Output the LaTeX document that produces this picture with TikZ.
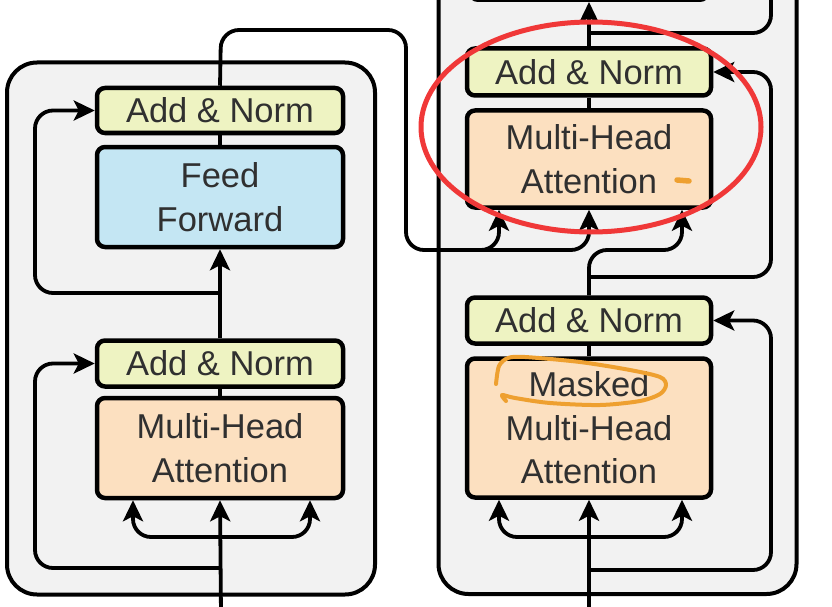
\documentclass[tikz,border=0pt]{standalone}
\usepackage{fontspec}
\setmainfont{Liberation Sans}
\usetikzlibrary{arrows.meta}
\definecolor{panelgray}{RGB}{242,242,242}
\definecolor{normfill}{RGB}{238,243,194}
\definecolor{fffill}{RGB}{196,230,243}
\definecolor{attfill}{RGB}{252,224,192}
\definecolor{txtgray}{RGB}{48,48,48}
\definecolor{annred}{RGB}{240,56,56}
\definecolor{annorange}{RGB}{238,160,48}
\begin{document}
\begin{tikzpicture}[x=1pt,y=-1pt,
  panel/.style={draw=black, line width=4pt, fill=panelgray, rounded corners=30pt, inner sep=0pt},
  box/.style={draw=black, line width=4.5pt, rounded corners=8pt, minimum width=246pt, inner sep=0pt,
    align=center, font=\fontsize{34.5}{43.5}\selectfont, text=txtgray},
  normbox/.style={box, fill=normfill},
  ffbox/.style={box, fill=fffill},
  attbox/.style={box, fill=attfill},
  conn/.style={line width=3.8pt, rounded corners=18pt},
  arr/.style={conn, -{Stealth[length=21pt,width=20pt,inset=5pt]}},
  redmark/.style={draw=annred, line width=5pt},
  orangemark/.style={draw=annorange, line width=4pt, line cap=round, line join=round},
]
\useasboundingbox (0,0) rectangle (832,607);
\clip (0,0) rectangle (832,607);

% panels
\node[panel, minimum width=368pt, minimum height=532pt] (encP) at (191,328.5) {};
\node[panel, minimum width=358pt, minimum height=680pt] (decP) at (617.5,254) {};

% encoder boxes
\node[normbox, minimum height=45pt] (eAN2) at (220,110.5) {Add \& Norm};
\node[ffbox, minimum height=100pt] (eFF) at (220,197) {Feed\\Forward};
\node[normbox, minimum height=46pt] (eAN1) at (220,363.5) {Add \& Norm};
\node[attbox, minimum height=100pt] (eMHA) at (220,448) {Multi-Head\\Attention};

% decoder boxes
\node[normbox, minimum width=238pt, minimum height=60pt, anchor=south] (dTop) at (589,2) {};
\node[normbox, minimum width=244pt, minimum height=47pt] (dAN2) at (589,72) {Add \& Norm};
\node[attbox, minimum width=244pt, minimum height=97pt] (dMHA) at (589,159) {Multi-Head\\Attention};
\node[normbox, minimum width=244pt, minimum height=46pt] (dAN1) at (589,320.5) {Add \& Norm};
\node[attbox, minimum width=244pt, minimum height=139pt] (dMMHA) at (589,428) {Masked\\Multi-Head\\Attention};

% helper coordinates
\coordinate (eIn) at (221,615);
\coordinate (eSplit) at (221,537);
\coordinate (eKx) at (133,0);
\coordinate (eQx) at (310,0);
\coordinate (eLx) at (35,0);
\coordinate (eRes1) at (221,568);
\coordinate (eRes2) at (221,293);
\coordinate (eUp) at (221,30);
\coordinate (eRight) at (406,30);
\coordinate (eDown) at (406,250);
\coordinate (dEncY) at (0,250);
\coordinate (dEncSplit) at (462,250);
\coordinate (dKx) at (499,0);
\coordinate (dQx) at (682,0);
\coordinate (dRx) at (771,0);
\coordinate (dIn) at (589,615);
\coordinate (dSplit) at (589,537);
\coordinate (dRes1) at (589,570);
\coordinate (dRes2) at (589,277);
\coordinate (dRes3) at (589,33);
\coordinate (dOut) at (771,-30);

% encoder connectors
\draw[arr] (eIn) -- (eMHA.south);
\draw[arr] (eSplit) -- (eKx |- eSplit) -- (eKx |- eMHA.south);
\draw[arr] (eSplit) -- (eQx |- eSplit) -- (eQx |- eMHA.south);
\draw[arr] (eRes1) -- (eLx |- eRes1) -- (eLx |- eAN1.west) -- (eAN1.west);
\draw[conn] (eMHA.north) -- (eAN1.south);
\draw[arr] (eAN1.north) -- (eFF.south);
\draw[arr] (eRes2) -- (eLx |- eRes2) -- (eLx |- eAN2.west) -- (eAN2.west);
\draw[conn] (eFF.north) -- (eAN2.south);
\draw[arr] (eAN2.north) -- (eUp) -- (eRight) -- (eDown) -- (dMHA.south |- dEncY) -- (dMHA.south);
\draw[arr] (dEncSplit) -- (dKx |- dEncY) -- (dKx |- dMHA.south);

% decoder connectors
\draw[arr] (dIn) -- (dMMHA.south);
\draw[arr] (dSplit) -- (dKx |- dSplit) -- (dKx |- dMMHA.south);
\draw[arr] (dSplit) -- (dQx |- dSplit) -- (dQx |- dMMHA.south);
\draw[arr] (dRes1) -- (dRx |- dRes1) -- (dRx |- dAN1.east) -- (dAN1.east);
\draw[conn] (dMMHA.north) -- (dAN1.south);
\draw[arr] (dAN1.north) -- (dAN1.north |- dEncY) -- (dQx |- dEncY) -- (dQx |- dMHA.south);
\draw[arr] (dRes2) -- (dRx |- dRes2) -- (dRx |- dAN2.east) -- (dAN2.east);
\draw[conn] (dMHA.north) -- (dAN2.south);
\draw[arr] (dAN2.north) -- (dTop.south);
\draw[conn] (dRes3) -- (dRx |- dRes3) -- (dOut);

% annotations
\draw[redmark] (591,127) ellipse [x radius=170pt, y radius=105pt];
\draw[orangemark, line width=5.5pt] (677,180) -- (689,181);
\draw[orangemark] plot[smooth] coordinates {(496,384) (499,366) (508,358) (525,357) (580,362) (630,370) (660,377) (666,385) (660,394) (640,401) (600,405) (550,403) (515,398) (502,395) (506,401)};
\end{tikzpicture}
\end{document}
